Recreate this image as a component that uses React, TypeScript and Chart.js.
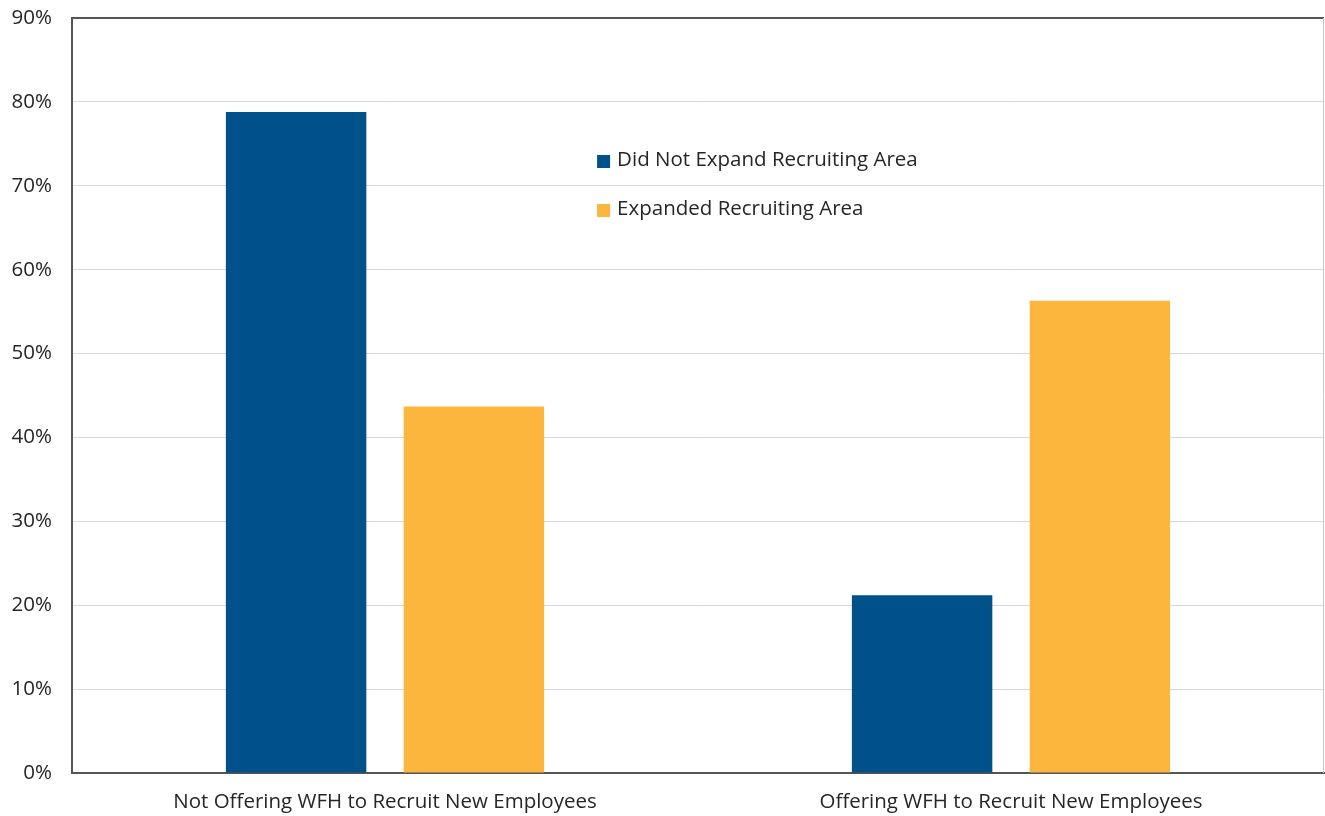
import React, { useEffect, useRef } from "react";
import { Chart, registerables } from "chart.js";

Chart.register(...registerables);

const categories = [
  "Not Offering WFH to Recruit New Employees",
  "Offering WFH to Recruit New Employees",
];
const didNotExpand = [78.8, 21.2];
const expanded = [43.7, 56.3];
const seriesLabels = ["Did Not Expand Recruiting Area", "Expanded Recruiting Area"];
const seriesColors = ["#00508A", "#FCB53D"];

const FONT = "'Open Sans', sans-serif";
const FONT_SIZE = 20.5;

// Legend drawn inside the plot area, plus the frame around it
const framePlugin = {
  id: "frameAndLegend",
  afterDraw(chart: any) {
    const { ctx, chartArea } = chart;
    ctx.save();
    // top frame line
    ctx.strokeStyle = "#555555";
    ctx.lineWidth = 2;
    ctx.beginPath();
    ctx.moveTo(chartArea.left, chartArea.top);
    ctx.lineTo(chartArea.right, chartArea.top);
    ctx.stroke();
    // right frame line
    ctx.strokeStyle = "#c8c8c8";
    ctx.lineWidth = 1;
    ctx.beginPath();
    ctx.moveTo(chartArea.right - 0.5, chartArea.top);
    ctx.lineTo(chartArea.right - 0.5, chartArea.bottom);
    ctx.stroke();

    // legend
    const x0 = chartArea.left + (chartArea.right - chartArea.left) * 0.4194;
    const rows = [160, 209];
    ctx.font = `${FONT_SIZE}px ${FONT}`;
    ctx.textBaseline = "middle";
    ctx.textAlign = "left";
    chart.data.datasets.forEach((ds: any, i: number) => {
      const y = rows[i];
      ctx.fillStyle = ds.backgroundColor;
      ctx.fillRect(x0, y - 5, 13, 13);
      ctx.fillStyle = "#262626";
      ctx.fillText(ds.label, x0 + 20, y);
    });
    ctx.restore();
  },
};

export default function App() {
  const ref = useRef<HTMLCanvasElement>(null);
  useEffect(() => {
    if (!ref.current) return;
    const chart = new Chart(ref.current, {
      type: "bar",
      data: {
        labels: categories,
        datasets: [
          { label: seriesLabels[0], data: didNotExpand, backgroundColor: seriesColors[0] },
          { label: seriesLabels[1], data: expanded, backgroundColor: seriesColors[1] },
        ],
      },
      plugins: [framePlugin],
      options: {
        responsive: false,
        animation: false,
        layout: { padding: { top: 18, right: 1, left: 0, bottom: 0 } },
        datasets: {
          bar: { categoryPercentage: 0.568, barPercentage: 0.79 },
        },
        plugins: {
          legend: { display: false },
          tooltip: { enabled: false },
        },
        scales: {
          x: {
            grid: { display: false, drawTicks: false },
            border: { color: "#555555", width: 2 },
            ticks: {
              color: "#262626",
              font: { family: FONT, size: FONT_SIZE },
              padding: 17,
              maxRotation: 0,
            },
            afterFit(scale: any) {
              scale.height = 43;
              scale.paddingLeft = 0;
              scale.paddingRight = 0;
            },
          },
          y: {
            min: 0,
            max: 90,
            ticks: {
              stepSize: 10,
              color: "#262626",
              font: { family: FONT, size: FONT_SIZE },
              padding: 20,
              callback: (v: any) => `${v}%`,
            },
            grid: { color: "#d9d9d9", lineWidth: 1, drawTicks: false },
            border: { color: "#555555", width: 2 },
            afterFit(scale: any) {
              scale.width = 72;
              scale.paddingTop = 0;
              scale.paddingBottom = 0;
            },
          },
        },
      },
    });
    return () => chart.destroy();
  }, []);
  return (
    <div style={{ position: "absolute", left: 0, top: 0, width: 1325, height: 816, background: "#fff" }}>
      <canvas ref={ref} width={1325} height={816} />
    </div>
  );
}
